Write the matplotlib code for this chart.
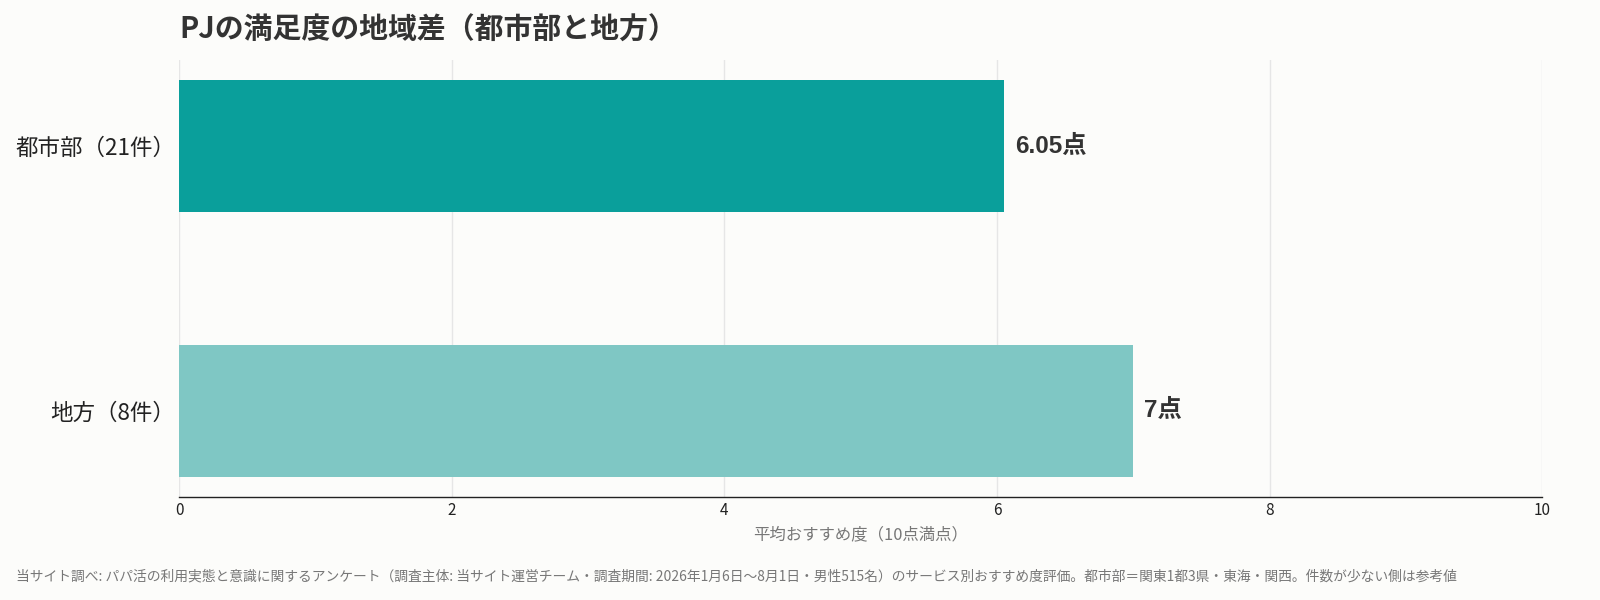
import matplotlib
matplotlib.use("Agg")
import matplotlib.pyplot as plt

plt.rcParams['font.family'] = ['Noto Sans CJK JP', 'DejaVu Sans']

# データ
regions = ["都市部（21件）", "地方（8件）"]
scores = [6.05, 7.0]
score_labels = ["6.05点", "7点"]
bar_colors = ["#0A9F9B", "#7FC7C4"]
x_ticks = [0, 2, 4, 6, 8, 10]

title = "PJの満足度の地域差（都市部と地方）"
x_label = "平均おすすめ度（10点満点）"
footer = ("当サイト調べ: パパ活の利用実態と意識に関するアンケート（調査主体: 当サイト運営チーム・調査期間: "
          "2026年1月6日〜8月1日・男性515名）のサービス別おすすめ度評価。都市部＝関東1都3県・東海・関西。件数が少ない側は参考値")

bg = "#FCFCFA"
fig = plt.figure(figsize=(16, 6), dpi=100, facecolor=bg)
ax = fig.add_axes([0.112, 0.172, 0.852, 0.728], facecolor=bg)

ypos = list(range(len(regions)))
ax.barh(ypos, scores, height=0.5, color=bar_colors, zorder=3)
ax.invert_yaxis()
ax.set_yticks(ypos)
ax.set_yticklabels(regions, fontsize=16.2, color="#222222")

for y, v, lab in zip(ypos, scores, score_labels):
    ax.text(v + 0.08, y, lab, va="center", ha="left", fontsize=17.5,
            fontweight="bold", color="#333333",
            family=['Liberation Sans', 'Noto Sans CJK JP'])

ax.set_xlim(0, 10)
ax.set_xticks(x_ticks)
ax.set_xticklabels([str(t) for t in x_ticks], fontsize=11, color="#222222")
ax.tick_params(axis="both", length=0, pad=4)
ax.tick_params(axis="y", pad=3)
ax.set_xlabel(x_label, fontsize=11.8, color="#777777", labelpad=5)

ax.grid(axis="x", color="#E6E6E6", linewidth=1, zorder=0)
for s in ["top", "right", "left"]:
    ax.spines[s].set_visible(False)
ax.spines["bottom"].set_color("#222222")
ax.spines["bottom"].set_linewidth(1)

fig.text(0.112, 0.95, title, fontsize=20.8, fontweight="bold", color="#333333",
         ha="left", va="center")
fig.text(0.01, 0.04, footer, fontsize=9.95, color="#777777", ha="left", va="center")

fig.savefig("out.png", dpi=100, facecolor=bg)
